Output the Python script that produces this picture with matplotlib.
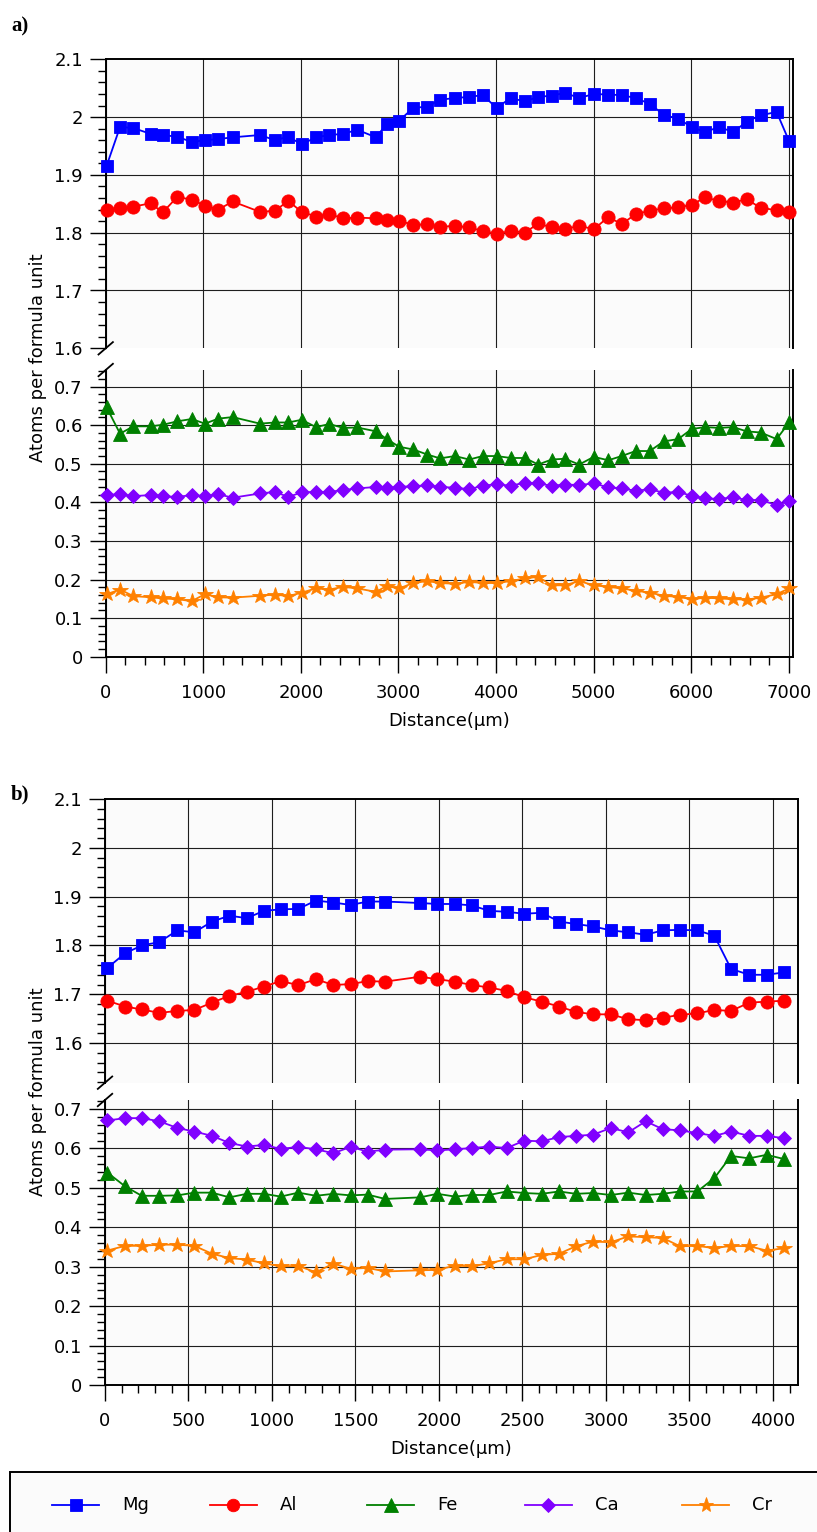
import matplotlib
matplotlib.use("Agg")
import matplotlib.pyplot as plt
from matplotlib.lines import Line2D
from matplotlib.patches import Rectangle
from matplotlib.ticker import FixedLocator, MultipleLocator, FuncFormatter

# ---------------- data: profile a) ----------------
dist_a = [10, 147, 283, 461, 584, 734, 881, 1017, 1154, 1301, 1581, 1735, 1871,
          2008, 2155, 2291, 2434, 2578, 2770, 2879, 3008, 3152, 3295, 3425, 3579,
          3725, 3863, 4006, 4150, 4296, 4432, 4570, 4706, 4852, 5002, 5150, 5287,
          5431, 5575, 5719, 5867, 6004, 6140, 6287, 6430, 6568, 6711, 6875, 7004]
mg_a = [1.916, 1.983, 1.981, 1.971, 1.969, 1.966, 1.957, 1.960, 1.962, 1.965,
        1.969, 1.960, 1.966, 1.953, 1.965, 1.969, 1.971, 1.978, 1.965, 1.988,
        1.994, 2.016, 2.018, 2.030, 2.033, 2.035, 2.038, 2.016, 2.033, 2.027,
        2.035, 2.037, 2.042, 2.033, 2.040, 2.039, 2.038, 2.033, 2.023, 2.004,
        1.997, 1.983, 1.974, 1.983, 1.974, 1.992, 2.003, 2.009, 1.958]
al_a = [1.839, 1.842, 1.845, 1.851, 1.835, 1.862, 1.857, 1.847, 1.840, 1.854,
        1.836, 1.838, 1.855, 1.836, 1.828, 1.832, 1.825, 1.826, 1.825, 1.822,
        1.821, 1.813, 1.815, 1.810, 1.812, 1.809, 1.803, 1.798, 1.803, 1.800,
        1.816, 1.809, 1.806, 1.812, 1.806, 1.827, 1.815, 1.832, 1.838, 1.842,
        1.844, 1.848, 1.861, 1.855, 1.852, 1.858, 1.843, 1.839, 1.835]
fe_a = [0.646, 0.578, 0.597, 0.597, 0.601, 0.610, 0.616, 0.604, 0.617, 0.621,
        0.604, 0.607, 0.607, 0.614, 0.595, 0.603, 0.593, 0.594, 0.584, 0.564,
        0.544, 0.537, 0.524, 0.514, 0.520, 0.511, 0.520, 0.520, 0.515, 0.515,
        0.498, 0.511, 0.513, 0.498, 0.518, 0.509, 0.520, 0.533, 0.533, 0.558,
        0.564, 0.590, 0.595, 0.593, 0.595, 0.584, 0.581, 0.564, 0.607]
ca_a = [0.419, 0.421, 0.416, 0.419, 0.416, 0.414, 0.419, 0.416, 0.421, 0.412,
        0.423, 0.427, 0.414, 0.426, 0.427, 0.427, 0.432, 0.436, 0.440, 0.436,
        0.440, 0.442, 0.444, 0.440, 0.438, 0.434, 0.443, 0.447, 0.443, 0.451,
        0.449, 0.443, 0.446, 0.445, 0.449, 0.439, 0.436, 0.430, 0.434, 0.425,
        0.427, 0.417, 0.410, 0.409, 0.413, 0.406, 0.406, 0.393, 0.403]
cr_a = [0.162, 0.174, 0.157, 0.154, 0.151, 0.149, 0.144, 0.162, 0.154, 0.153,
        0.158, 0.161, 0.157, 0.166, 0.177, 0.174, 0.181, 0.177, 0.168, 0.183,
        0.177, 0.191, 0.196, 0.191, 0.189, 0.194, 0.191, 0.191, 0.196, 0.203,
        0.207, 0.185, 0.185, 0.196, 0.185, 0.181, 0.177, 0.171, 0.166, 0.158,
        0.155, 0.149, 0.153, 0.151, 0.149, 0.148, 0.153, 0.162, 0.177]

# ---------------- data: profile b) ----------------
dist_b = [14, 120, 220, 326, 433, 535, 641, 745, 849, 952, 1052, 1158, 1263,
          1367, 1471, 1573, 1678, 1886, 1990, 2096, 2196, 2301, 2405, 2511,
          2615, 2719, 2820, 2924, 3028, 3134, 3238, 3340, 3443, 3547, 3649,
          3749, 3858, 3962, 4068]
mg_b = [1.754, 1.784, 1.800, 1.807, 1.831, 1.827, 1.849, 1.861, 1.856, 1.871,
        1.874, 1.875, 1.892, 1.888, 1.883, 1.890, 1.890, 1.887, 1.885, 1.885,
        1.882, 1.871, 1.869, 1.865, 1.867, 1.849, 1.844, 1.839, 1.831, 1.827,
        1.822, 1.831, 1.832, 1.831, 1.820, 1.752, 1.740, 1.740, 1.745]
al_b = [1.687, 1.675, 1.669, 1.662, 1.666, 1.668, 1.683, 1.697, 1.705, 1.716,
        1.727, 1.719, 1.731, 1.719, 1.721, 1.727, 1.726, 1.736, 1.731, 1.726,
        1.719, 1.714, 1.707, 1.694, 1.685, 1.675, 1.664, 1.659, 1.659, 1.649,
        1.647, 1.652, 1.658, 1.661, 1.668, 1.666, 1.683, 1.685, 1.687]
fe_b = [0.539, 0.504, 0.480, 0.480, 0.481, 0.488, 0.488, 0.476, 0.485, 0.485,
        0.478, 0.488, 0.480, 0.485, 0.481, 0.483, 0.472, 0.476, 0.485, 0.478,
        0.482, 0.482, 0.491, 0.487, 0.485, 0.491, 0.485, 0.487, 0.482, 0.488,
        0.482, 0.485, 0.491, 0.491, 0.525, 0.581, 0.575, 0.584, 0.573]
ca_b = [0.671, 0.677, 0.677, 0.669, 0.652, 0.643, 0.632, 0.614, 0.605, 0.609,
        0.599, 0.604, 0.598, 0.588, 0.604, 0.592, 0.597, 0.598, 0.595, 0.598,
        0.601, 0.605, 0.601, 0.620, 0.618, 0.629, 0.632, 0.635, 0.652, 0.641,
        0.669, 0.649, 0.646, 0.639, 0.632, 0.643, 0.632, 0.632, 0.626]
cr_b = [0.341, 0.353, 0.353, 0.356, 0.356, 0.353, 0.333, 0.322, 0.318, 0.309,
        0.301, 0.302, 0.286, 0.308, 0.295, 0.297, 0.288, 0.291, 0.292, 0.303,
        0.301, 0.309, 0.319, 0.319, 0.330, 0.333, 0.352, 0.364, 0.362, 0.377,
        0.375, 0.373, 0.352, 0.353, 0.347, 0.353, 0.352, 0.341, 0.347]

elements = ["Mg", "Al", "Fe", "Ca", "Cr"]
colors = {"Mg": "#0000FF", "Al": "#FF0000", "Fe": "#008000",
          "Ca": "#8000FF", "Cr": "#FF8000"}
markers = {"Mg": "s", "Al": "o", "Fe": "^", "Ca": "D", "Cr": "*"}
msize = {"Mg": 9.0, "Al": 9.5, "Fe": 10.0, "Ca": 7.2, "Cr": 11.5}

upper_elems = ["Mg", "Al"]
lower_elems = ["Fe", "Ca", "Cr"]

W, H, DPI = 817, 1532, 100
plt.rcParams["font.family"] = ["DejaVu Sans"]
fig = plt.figure(figsize=(W / DPI, H / DPI), dpi=DPI)
fig.patch.set_facecolor("white")

FS = 13
GRID_C = "#1e1e1e"
BG = "#FBFBFB"


def px_rect(left, top, right, bottom):
    return [left / W, 1 - bottom / H, (right - left) / W, (bottom - top) / H]


def fmt(v, _pos):
    return f"{v:.2f}".rstrip("0").rstrip(".")


def style_axes(ax, xlim, xmaj, xmin_step, ylim, ymaj, upper):
    ax.set_facecolor(BG)
    ax.set_xlim(*xlim)
    ax.set_ylim(*ylim)
    ax.xaxis.set_major_locator(MultipleLocator(xmaj))
    ax.xaxis.set_minor_locator(MultipleLocator(xmin_step))
    ax.yaxis.set_major_locator(FixedLocator(ymaj))
    ax.yaxis.set_minor_locator(MultipleLocator(0.02))
    ax.yaxis.set_major_formatter(FuncFormatter(fmt))
    # grid lines at major ticks, skipping ones that sit on the open (broken) edge
    for v in ymaj:
        if ylim[0] + 1e-6 < v < ylim[1] - 1e-6:
            ax.axhline(v, color=GRID_C, lw=0.8, zorder=0.5)
    xv = 0
    while xv <= xlim[1]:
        ax.axvline(xv, color=GRID_C, lw=0.8, zorder=0.5)
        xv += xmaj
    ax.tick_params(which="major", direction="out", length=11.5, width=1.0,
                   labelsize=FS, color="black")
    ax.tick_params(which="minor", direction="out", length=5.8, width=1.0,
                   color="black")
    ax.tick_params(axis="y", which="both", right=False, pad=5)
    ax.tick_params(axis="x", which="both", top=False, pad=8)
    for s in ax.spines.values():
        s.set_linewidth(1.4)
        s.set_color("black")
    if upper:
        ax.spines["bottom"].set_visible(False)
        ax.tick_params(axis="x", which="both", bottom=False, labelbottom=False)
    else:
        ax.spines["top"].set_visible(False)


def plot_series(ax, x, series):
    for name, vals in series:
        ax.plot(x, vals, color=colors[name], lw=1.3, marker=markers[name],
                ms=msize[name], mfc=colors[name], mec=colors[name], mew=0.6,
                zorder=3, clip_on=False, label=name)


def break_marks(ax_up, ax_lo):
    # small diagonal slashes on the left spine marking the axis break
    for ax, yfrac in ((ax_up, 0.0), (ax_lo, 1.0)):
        bb = ax.get_position()
        dx = 7.2 / (bb.width * W)
        dy = 6.2 / (bb.height * H)
        ax.plot([-dx, dx], [yfrac - dy, yfrac + dy], transform=ax.transAxes,
                color="black", lw=1.3, clip_on=False, zorder=5)


panels = [
    dict(x=dist_a,
         up=[("Mg", mg_a), ("Al", al_a)],
         lo=[("Fe", fe_a), ("Ca", ca_a), ("Cr", cr_a)],
         left=105.7, right=792.7,
         up_box=(59.3, 348.3), lo_box=(370.0, 656.7),
         xlim=(0, 7040), xmaj=1000, xmin=200,
         up_ylim=(1.6, 2.1), lo_ylim=(0, 0.743),
         label="a)", label_y=26),
    dict(x=dist_b,
         up=[("Mg", mg_b), ("Al", al_b)],
         lo=[("Fe", fe_b), ("Ca", ca_b), ("Cr", cr_b)],
         left=105.0, right=797.7,
         up_box=(799.0, 1082.7), lo_box=(1100.0, 1385.0),
         xlim=(0, 4148), xmaj=500, xmin=100,
         up_ylim=(1.519, 2.1), lo_ylim=(0, 0.723),
         label="b)", label_y=794),
]

up_ticks = [1.6, 1.7, 1.8, 1.9, 2.0, 2.1]
lo_ticks = [0.0, 0.1, 0.2, 0.3, 0.4, 0.5, 0.6, 0.7]

for p in panels:
    ax_up = fig.add_axes(px_rect(p["left"], p["up_box"][0], p["right"], p["up_box"][1]))
    ax_lo = fig.add_axes(px_rect(p["left"], p["lo_box"][0], p["right"], p["lo_box"][1]))
    style_axes(ax_up, p["xlim"], p["xmaj"], p["xmin"], p["up_ylim"], up_ticks, True)
    style_axes(ax_lo, p["xlim"], p["xmaj"], p["xmin"], p["lo_ylim"], lo_ticks, False)
    plot_series(ax_up, p["x"], p["up"])
    plot_series(ax_lo, p["x"], p["lo"])
    break_marks(ax_up, ax_lo)
    ax_lo.set_xlabel("Distance(\u03bcm)", fontsize=FS, labelpad=7)
    yc = (p["up_box"][0] + p["lo_box"][1]) / 2
    fig.text(38 / W, 1 - yc / H, "Atoms per formula unit", rotation=90,
             ha="center", va="center", fontsize=FS)
    fig.text(11 / W, 1 - p["label_y"] / H, p["label"], ha="left", va="center",
             fontsize=15, fontweight="bold", family="Liberation Serif")

# legend panel along the bottom edge
fig.add_artist(Rectangle((10.4 / W, 1 - 1545 / H), (830 - 10.4) / W,
                         (1545 - 1471.7) / H, transform=fig.transFigure,
                         facecolor=BG, edgecolor="black", lw=1.4, zorder=1))
leg_y = 1 - 1505 / H
for i, name in enumerate(elements):
    x0 = 52 + i * 157.6
    xs = [x0 / W, (x0 + 23.5) / W, (x0 + 47) / W]
    fig.add_artist(Line2D(xs, [leg_y] * 3, transform=fig.transFigure,
                          color=colors[name], lw=1.3, marker=markers[name],
                          markevery=[1], ms=msize[name] * 0.95,
                          mfc=colors[name], mec=colors[name], mew=0.6, zorder=2))
    fig.text((x0 + 70) / W, leg_y, name, ha="left", va="center",
             fontsize=FS, zorder=2)

fig.savefig("out.png", dpi=DPI, facecolor="white")
